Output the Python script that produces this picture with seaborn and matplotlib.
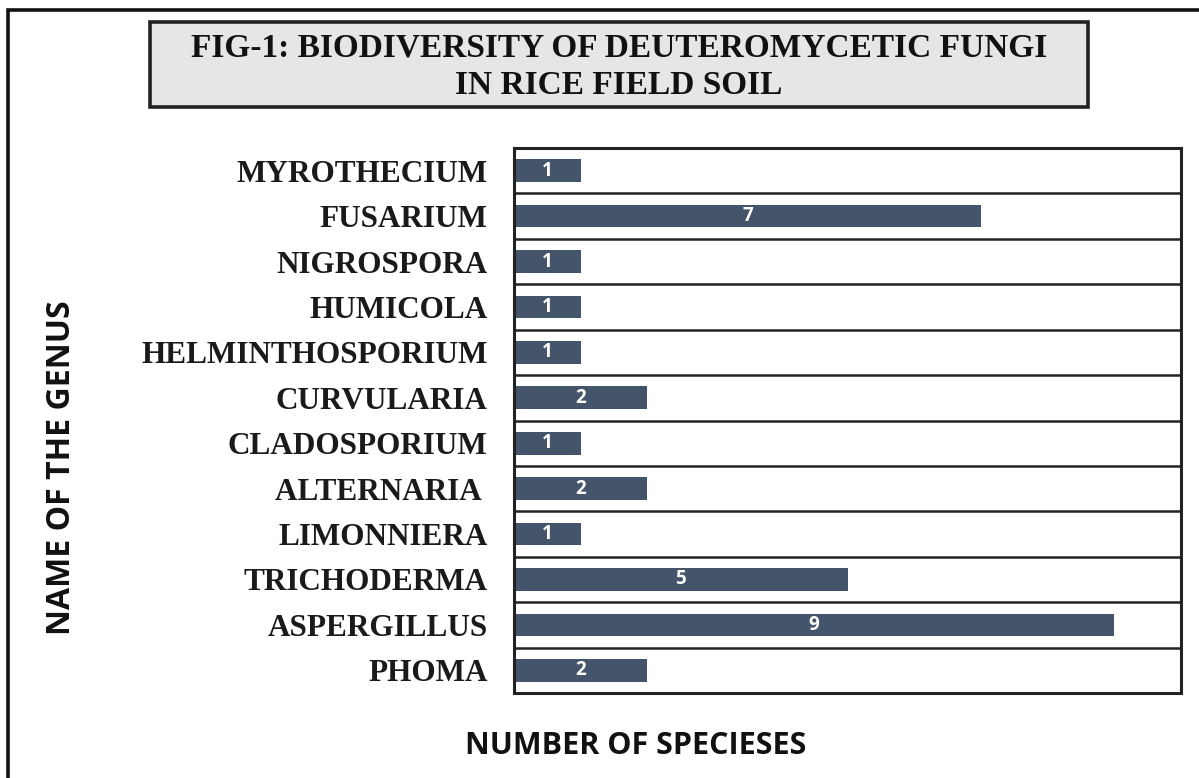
import matplotlib
matplotlib.use("Agg")
import matplotlib.pyplot as plt
from matplotlib.patches import Rectangle
import seaborn as sns
import pandas as pd

# Genera (top to bottom) and number of species recorded for each
genera = ["MYROTHECIUM", "FUSARIUM", "NIGROSPORA", "HUMICOLA",
          "HELMINTHOSPORIUM", "CURVULARIA", "CLADOSPORIUM", "ALTERNARIA ",
          "LIMONNIERA", "TRICHODERMA", "ASPERGILLUS", "PHOMA"]
species_counts = [1, 7, 1, 1, 1, 2, 1, 2, 1, 5, 9, 2]

title_lines = ["FIG-1: BIODIVERSITY OF DEUTEROMYCETIC FUNGI", "IN RICE FIELD SOIL"]
x_label = "NUMBER OF SPECIESES"
y_label = "NAME OF THE GENUS"

df = pd.DataFrame({"genus": genera, "count": species_counts})

sns.set_theme(style="white")
plt.rcParams["font.family"] = ["Liberation Serif", "DejaVu Serif"]

W, H = 1199, 778
fig = plt.figure(figsize=(W / 100, H / 100), dpi=100)
fig.patch.set_facecolor("white")

def fx(px):
    return px / W

def fy(py):
    return 1 - py / H

ax = fig.add_axes([fx(514), fy(693), fx(1181) - fx(514), fy(148) - fy(693)])

bar_color = "#44546a"
sns.barplot(data=df, x="count", y="genus", orient="h", color=bar_color,
            width=0.5, saturation=1, ax=ax, edgecolor="none")

ax.set_xlim(0, 10)
ax.set_ylim(len(genera) - 0.5, -0.5)
ax.set_xticks([])
ax.set_xlabel("")
ax.set_ylabel("")
ax.tick_params(axis="y", length=0, pad=19)
for lbl in ax.get_yticklabels():
    lbl.set_fontfamily("Liberation Serif")
    lbl.set_fontweight("bold")
    lbl.set_fontsize(22.5)
    lbl.set_color("#1a1a1a")

for sp in ax.spines.values():
    sp.set_visible(True)
    sp.set_color("#222222")
    sp.set_linewidth(2.2)

# row separators
for i in range(len(genera) - 1):
    ax.axhline(i + 0.5, color="#222222", lw=1.8, zorder=3)

# value labels centred in each bar
for container in ax.containers:
    ax.bar_label(container, labels=[str(v) for v in species_counts],
                 label_type="center", color="white", fontsize=13.5,
                 fontweight="bold", family="Open Sans")

# axis titles
fig.text(fx(636), fy(746), x_label, ha="center", va="center",
         fontsize=22, fontweight="bold", family="Open Sans", color="#111111")
fig.text(fx(62), fy(468), y_label, ha="center", va="center", rotation=90,
         fontsize=23, fontweight="bold", family="Open Sans", color="#111111")

# title box
fig.patches.append(Rectangle((fx(150), fy(107)), fx(1088) - fx(150), fy(22) - fy(107),
                             transform=fig.transFigure, facecolor="#e6e6e6",
                             edgecolor="#222222", linewidth=2.6, zorder=1))
fig.text(fx(619), fy(48), title_lines[0], ha="center", va="center",
         fontsize=24, fontweight="bold", family="Liberation Serif", color="#111111")
fig.text(fx(619), fy(86), title_lines[1], ha="center", va="center",
         fontsize=24, fontweight="bold", family="Liberation Serif", color="#111111")

# outer frame
fig.patches.append(Rectangle((fx(8), fy(800)), fx(1220) - fx(8), fy(10) - fy(800),
                             transform=fig.transFigure, facecolor="none",
                             edgecolor="#111111", linewidth=2.6, zorder=0,
                             clip_on=False))

fig.savefig("out.png", dpi=100, facecolor="white")
